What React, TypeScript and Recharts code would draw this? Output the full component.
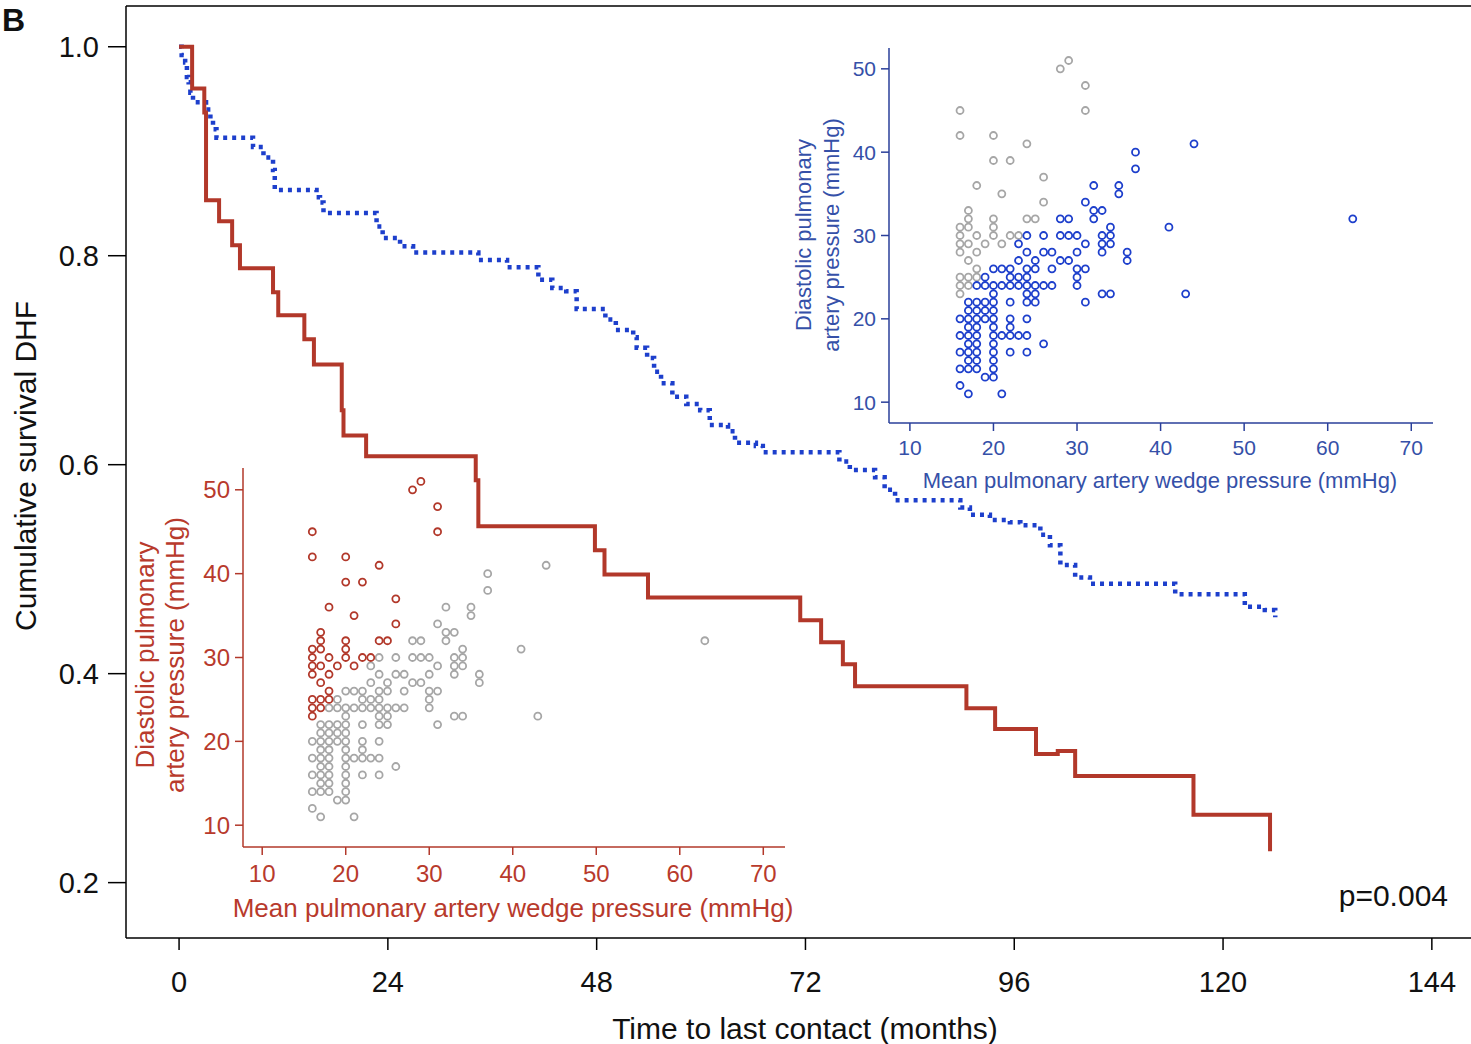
import React from 'react';
import {
  LineChart, Line, XAxis, YAxis, ReferenceLine, Label,
  ScatterChart, Scatter,
} from 'recharts';

const FONT = '"Liberation Sans", Arial, Helvetica, sans-serif';

// Kaplan-Meier, high diastolic pulmonary gradient group (red, solid)
const redMonths = [0, 1.5, 2.9, 3.1, 4.6, 6.1, 7.0, 10.8, 11.4, 14.4, 15.5, 18.7, 18.9, 21.5, 34.1, 34.4, 47.8, 48.9, 53.9, 71.4, 73.8, 76.3, 77.7, 90.5, 93.8, 98.5, 101.0, 103.0, 116.6, 125.4];
const redSurvival = [1.0, 0.96, 0.937, 0.853, 0.833, 0.81, 0.788, 0.765, 0.743, 0.72, 0.696, 0.652, 0.628, 0.608, 0.585, 0.541, 0.518, 0.495, 0.473, 0.451, 0.43, 0.409, 0.388, 0.367, 0.347, 0.323, 0.326, 0.302, 0.265, 0.23];

// Kaplan-Meier, low gradient group (blue, dotted)
const blueMonths = [0, 0.3, 0.7, 0.9, 1.1, 1.3, 1.6, 3.1, 3.6, 3.9, 4.3, 8.5, 9.7, 10.8, 11.0, 15.8, 16.2, 16.6, 22.7, 23.4, 25.4, 26.9, 34.4, 37.7, 41.3, 42.9, 44.5, 45.7, 49.0, 50.2, 52.2, 52.6, 53.8, 54.6, 55.4, 56.7, 58.3, 59.9, 61.0, 63.1, 63.9, 66.3, 67.1, 75.9, 77.1, 80.0, 81.1, 82.3, 89.8, 90.9, 93.2, 95.5, 96.7, 99.0, 100.1, 101.3, 103.0, 104.7, 114.5, 122.5, 124.8, 126.0];
const blueSurvival = [1.0, 0.992, 0.985, 0.971, 0.966, 0.956, 0.947, 0.94, 0.93, 0.921, 0.913, 0.904, 0.894, 0.882, 0.863, 0.856, 0.851, 0.841, 0.828, 0.817, 0.809, 0.803, 0.796, 0.789, 0.777, 0.769, 0.766, 0.749, 0.739, 0.729, 0.722, 0.712, 0.702, 0.689, 0.678, 0.665, 0.658, 0.652, 0.638, 0.632, 0.621, 0.618, 0.612, 0.603, 0.595, 0.588, 0.576, 0.566, 0.559, 0.552, 0.547, 0.545, 0.542, 0.533, 0.523, 0.504, 0.492, 0.486, 0.476, 0.464, 0.461, 0.454];

const monthTicks = [0, 24, 48, 72, 96, 120, 144];
const survivalTicks = [0.2, 0.4, 0.6, 0.8, 1.0];
const pressureTicks = [10, 20, 30, 40, 50, 60, 70];
const diastolicTicks = [10, 20, 30, 40, 50];

// inset scatter: wedge pressure vs diastolic pulmonary pressure (mmHg)
const highWedge = [28, 29, 31, 31, 16, 16, 20, 24, 20, 22, 18, 26, 21, 26, 17, 17, 20, 20, 24, 25, 16, 16, 16, 16, 17, 17, 17, 18, 18, 18, 19, 20, 21, 22, 23, 16, 16, 16, 17, 17, 18];
const highDiastolic = [50, 51, 48, 45, 45, 42, 42, 41, 39, 39, 36, 37, 35, 34, 33, 32, 32, 31, 32, 32, 31, 30, 29, 28, 31, 29, 27, 30, 28, 26, 29, 30, 29, 30, 30, 25, 24, 23, 25, 24, 25];

const lowWedge = [44, 37, 37, 32, 35, 35, 31, 32, 33, 32, 28, 29, 24, 26, 28, 29, 30, 34, 34, 34, 33, 33, 33, 31, 41, 63, 23, 24, 26, 27, 30, 36, 36, 23, 25, 28, 29, 27, 25, 24, 30, 31, 30, 30, 20, 21, 22, 19, 22, 23, 24, 18, 19, 20, 21, 22, 23, 24, 25, 26, 27, 24, 25, 24, 25, 33, 34, 43, 31, 20, 22,
  17, 18, 19, 20, 17, 18, 19, 20, 16, 17, 18, 19, 20, 17, 18, 20, 16, 17, 18, 20, 21, 22, 23, 24, 17, 18, 20, 16, 17, 18, 20, 22, 24, 17, 18, 20, 16, 17, 18, 20, 19, 20, 16, 17, 21, 22, 22, 24, 26];
const lowDiastolic = [41, 40, 38, 36, 36, 35, 34, 33, 33, 32, 32, 32, 30, 30, 30, 30, 30, 31, 30, 29, 30, 29, 28, 29, 31, 32, 29, 28, 28, 28, 28, 28, 27, 27, 27, 27, 27, 26, 26, 26, 26, 26, 25, 24, 26, 26, 26, 25, 25, 25, 25, 24, 24, 24, 24, 24, 24, 24, 24, 24, 24, 23, 23, 22, 22, 23, 23, 23, 22, 23, 22,
  22, 22, 22, 22, 21, 21, 21, 21, 20, 20, 20, 20, 20, 19, 19, 19, 18, 18, 18, 18, 18, 18, 18, 18, 17, 17, 17, 16, 16, 16, 16, 16, 16, 15, 15, 15, 14, 14, 14, 14, 13, 13, 12, 11, 11, 20, 19, 20, 17];

const redData = redMonths.map((t, i) => ({ t, s: redSurvival[i] }));
const blueData = blueMonths.map((t, i) => ({ t, s: blueSurvival[i] }));
const highPts = highWedge.map((x, i) => ({ x, y: highDiastolic[i] }));
const lowPts = lowWedge.map((x, i) => ({ x, y: lowDiastolic[i] }));

const RED = '#b2382a';
const BLUE = '#1d3fcc';
const GREY = '#a6a6a6';

const ring = (color: string) => (p: any) => (
  <circle cx={p.cx} cy={p.cy} r={3.5} fill="none" stroke={color} strokeWidth={1.8} />
);

interface InsetProps {
  left: number;
  top: number;
  width: number;
  height: number;
  margin: { top: number; right: number; left: number; bottom: number };
  yWidth: number;
  xHeight: number;
  axisColor: string;
  textColor: string;
  fontSize: number;
  tickMargin: number;
  titleSize: number;
  xDomain: [number, number];
  yDomain: [number, number];
  xTitle: [number, number];
  yTitle: [number, number, number];
  back: { pts: { x: number; y: number }[]; color: string };
  front: { pts: { x: number; y: number }[]; color: string };
}

const Inset: React.FC<InsetProps> = (p) => (
  <div style={{ position: 'absolute', left: p.left, top: p.top }}>
    <ScatterChart width={p.width} height={p.height} margin={p.margin}>
      <XAxis type="number" dataKey="x" domain={p.xDomain} ticks={pressureTicks} interval={0} allowDataOverflow
        height={p.xHeight} tickSize={8} tickMargin={p.tickMargin}
        axisLine={{ stroke: p.axisColor, strokeWidth: 1.5 }} tickLine={{ stroke: p.axisColor, strokeWidth: 1.5 }}
        tick={{ fill: p.textColor, fontSize: p.fontSize, fontFamily: FONT }}>
        <Label content={() => (
          <text x={p.xTitle[0]} y={p.xTitle[1]} textAnchor="middle" fill={p.textColor}
            fontSize={p.titleSize} fontFamily={FONT}>Mean pulmonary artery wedge pressure (mmHg)</text>
        )} />
      </XAxis>
      <YAxis type="number" dataKey="y" domain={p.yDomain} ticks={diastolicTicks} interval={0} allowDataOverflow
        width={p.yWidth} tickSize={8} tickMargin={5}
        axisLine={{ stroke: p.axisColor, strokeWidth: 1.5 }} tickLine={{ stroke: p.axisColor, strokeWidth: 1.5 }}
        tick={{ fill: p.textColor, fontSize: p.fontSize, fontFamily: FONT }}>
        <Label content={() => (
          <g fill={p.textColor} fontSize={p.titleSize} fontFamily={FONT} textAnchor="middle">
            <text x={p.yTitle[0]} y={p.yTitle[2]} transform={`rotate(-90 ${p.yTitle[0]} ${p.yTitle[2]})`}>Diastolic pulmonary</text>
            <text x={p.yTitle[1]} y={p.yTitle[2]} transform={`rotate(-90 ${p.yTitle[1]} ${p.yTitle[2]})`}>artery pressure (mmHg)</text>
          </g>
        )} />
      </YAxis>
      <Scatter data={p.back.pts} shape={ring(p.back.color)} isAnimationActive={false} />
      <Scatter data={p.front.pts} shape={ring(p.front.color)} isAnimationActive={false} />
    </ScatterChart>
  </div>
);

export default function App() {
  return (
    <div style={{ position: 'absolute', left: 0, top: 0, width: 1471, height: 1044, background: '#fff', fontFamily: FONT }}>
      <div style={{ position: 'absolute', left: 0, top: 0 }}>
        <LineChart width={1471} height={1044} margin={{ top: 6, right: 0, bottom: 0, left: 0 }}>
          <XAxis type="number" dataKey="t" domain={[-6.1, 148.5]} ticks={monthTicks} interval={0} allowDataOverflow
            height={106} tickSize={12} tickMargin={21} stroke="#000"
            axisLine={{ strokeWidth: 1.5 }} tickLine={{ strokeWidth: 1.5 }}
            tick={{ fill: '#111', fontSize: 29, fontFamily: FONT }}>
            <Label content={() => (
              <g fontFamily={FONT} fill="#111">
                <text x={805} y={1039} textAnchor="middle" fontSize={30}>Time to last contact (months)</text>
                <text x={1448} y={906} textAnchor="end" fontSize={30}>p=0.004</text>
                <text x={2} y={31} fontSize={32} fontWeight="bold">B</text>
              </g>
            )} />
          </XAxis>
          <YAxis type="number" domain={[0.147, 1.039]} ticks={survivalTicks} interval={0} allowDataOverflow
            width={126} tickSize={18} tickMargin={9} stroke="#000"
            axisLine={{ strokeWidth: 1.5 }} tickLine={{ strokeWidth: 1.5 }}
            tickFormatter={(v: number) => v.toFixed(1)}
            tick={{ fill: '#111', fontSize: 29, fontFamily: FONT }}>
            <Label content={() => (
              <text x={36} y={466} transform="rotate(-90 36 466)" textAnchor="middle" fontSize={30}
                fontFamily={FONT} fill="#111">Cumulative survival DHF</text>
            )} />
          </YAxis>
          <ReferenceLine y={1.039} stroke="#000" strokeWidth={1.5} />
          <Line data={blueData} dataKey="s" type="stepAfter" stroke={BLUE} strokeWidth={4.5}
            strokeDasharray="4 5" dot={false} isAnimationActive={false} />
          <Line data={redData} dataKey="s" type="stepAfter" stroke={RED} strokeWidth={4}
            dot={false} isAnimationActive={false} />
        </LineChart>
      </div>

      <Inset left={780} top={30} width={680} height={480}
        margin={{ top: 18, right: 27, left: 0, bottom: 0 }} yWidth={109} xHeight={87}
        axisColor="#2a3f9a" textColor="#3550a8" fontSize={21} tickMargin={9} titleSize={22}
        xDomain={[7.5, 72.6]} yDomain={[7.5, 52.5]}
        xTitle={[380, 458]} yTitle={[31, 59, 205]}
        back={{ pts: highPts, color: GREY }} front={{ pts: lowPts, color: BLUE }} />

      <Inset left={120} top={450} width={700} height={480}
        margin={{ top: 18, right: 35, left: 0, bottom: 0 }} yWidth={123} xHeight={83}
        axisColor={RED} textColor="#b83a2c" fontSize={24} tickMargin={10} titleSize={26}
        xDomain={[7.7, 72.6]} yDomain={[7.4, 52.6]}
        xTitle={[393, 467]} yTitle={[34, 64, 205]}
        back={{ pts: lowPts, color: GREY }} front={{ pts: highPts, color: RED }} />
    </div>
  );
}
